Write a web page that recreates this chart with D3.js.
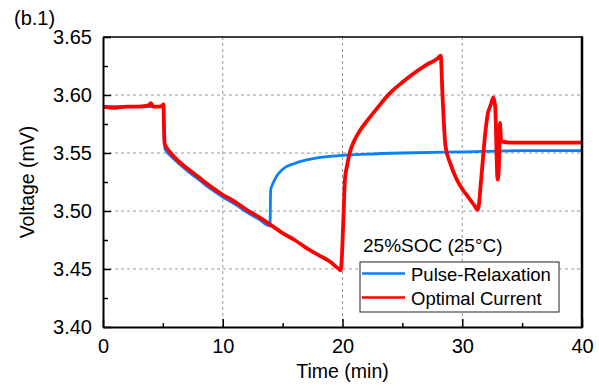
<!DOCTYPE html>
<html>
<head>
<meta charset="utf-8">
<script src="https://cdn.jsdelivr.net/npm/d3@7"></script>
<style>
  body { margin: 0; background: #fff; }
  svg { font-family: "Liberation Sans", Arial, sans-serif; }
</style>
</head>
<body>
<svg id="chart" width="599" height="390"></svg>
<script>
// time (min) / voltage readings
const pulseTime = [0, 5.05, 5.1, 5.2, 5.5, 6, 7, 8, 9, 10, 11, 12, 13, 13.95, 14.0, 14.2, 14.5, 15, 16, 17, 18, 20, 22, 25, 30, 35, 40];
const pulseVolt = [3.590, 3.590, 3.562, 3.553, 3.549, 3.544, 3.535, 3.527, 3.519, 3.512, 3.506, 3.499, 3.493, 3.487, 3.518, 3.524, 3.530, 3.536, 3.541, 3.544, 3.546, 3.548, 3.549, 3.550, 3.551, 3.552, 3.552];

const optTime = [0, 1, 2, 3, 3.8, 4.0, 4.2, 4.8, 5.05, 5.1, 5.15, 5.5, 6, 7, 8, 9, 10, 11, 12, 13, 14, 15, 16, 17, 18, 19, 19.7, 19.85, 20.1, 20.2, 20.4, 20.6, 21, 21.5, 22, 23, 24, 25, 26, 27, 28, 28.2, 28.35, 28.6, 29, 29.5, 30, 30.5, 31, 31.3, 31.6, 31.9, 32.1, 32.4, 32.6, 32.75, 32.95, 33.05, 33.15, 33.25, 34, 36, 38, 40];
const optVolt = [3.590, 3.589, 3.590, 3.590, 3.591, 3.593, 3.590, 3.590, 3.592, 3.570, 3.558, 3.552, 3.546, 3.537, 3.529, 3.521, 3.514, 3.508, 3.501, 3.495, 3.488, 3.481, 3.475, 3.468, 3.462, 3.456, 3.450, 3.449, 3.500, 3.527, 3.540, 3.550, 3.561, 3.570, 3.577, 3.590, 3.602, 3.611, 3.619, 3.626, 3.632, 3.634, 3.600, 3.556, 3.541, 3.528, 3.519, 3.512, 3.505, 3.501, 3.530, 3.565, 3.582, 3.592, 3.598, 3.590, 3.527, 3.535, 3.576, 3.560, 3.559, 3.559, 3.559, 3.559];

const xTicks = [0, 10, 20, 30, 40];
const yTicks = [3.40, 3.45, 3.50, 3.55, 3.60, 3.65];
const seriesNames = ["Pulse-Relaxation", "Optimal Current"];
const seriesColors = ["#0a80ff", "#ff0000"];

const svg = d3.select("#chart");
const pL = 103, pR = 582, pT = 37, pB = 327;

const x = d3.scaleLinear().domain([0, 40]).range([pL, pR]);
const y = d3.scaleLinear().domain([3.40, 3.65]).range([pB, pT]);

// grid
svg.append("g")
  .selectAll("line")
  .data(xTicks.slice(1, -1))
  .join("line")
  .attr("x1", d => x(d)).attr("x2", d => x(d))
  .attr("y1", pT).attr("y2", pB)
  .attr("stroke", "#999").attr("stroke-width", 1).attr("stroke-dasharray", "3,3");
svg.append("g")
  .selectAll("line")
  .data(yTicks.slice(1, -1))
  .join("line")
  .attr("x1", pL).attr("x2", pR)
  .attr("y1", d => y(d)).attr("y2", d => y(d))
  .attr("stroke", "#999").attr("stroke-width", 1).attr("stroke-dasharray", "3,3");

// lines
const line = d3.line().x(d => x(d[0])).y(d => y(d[1])).curve(d3.curveMonotoneX);
const pulseData = pulseTime.map((t, i) => [t, pulseVolt[i]]);
const optData = optTime.map((t, i) => [t, optVolt[i]]);

svg.append("path")
  .datum(pulseData)
  .attr("d", line)
  .attr("fill", "none")
  .attr("stroke", seriesColors[0])
  .attr("stroke-width", 2.8)
  .attr("stroke-linejoin", "round");

svg.append("path")
  .datum(optData)
  .attr("d", line)
  .attr("fill", "none")
  .attr("stroke", seriesColors[1])
  .attr("stroke-width", 3.8)
  .attr("stroke-linejoin", "round");

// axes
const xAxis = d3.axisBottom(x).tickValues(xTicks).tickSizeInner(-8).tickSizeOuter(0).tickPadding(12);
const gx = svg.append("g").attr("transform", `translate(0,${pB})`).call(xAxis);
gx.select(".domain").attr("stroke", "#000").attr("stroke-width", 2);
gx.selectAll(".tick line").attr("stroke-width", 1.5);
gx.selectAll("text").attr("font-size", 20).attr("fill", "#000").attr("font-family", "Liberation Sans, Arial, sans-serif");

const xMinor = d3.axisBottom(x).tickValues([5, 15, 25, 35]).tickSize(-4).tickFormat("");
const gxm = svg.append("g").attr("transform", `translate(0,${pB})`).call(xMinor);
gxm.select(".domain").remove();
gxm.selectAll(".tick line").attr("stroke-width", 1.5);

const yAxis = d3.axisLeft(y).tickValues(yTicks).tickFormat(d3.format(".2f")).tickSizeInner(-8).tickSizeOuter(0).tickPadding(11);
const gy = svg.append("g").attr("transform", `translate(${pL},0)`).call(yAxis);
gy.select(".domain").attr("stroke", "#000").attr("stroke-width", 2);
gy.selectAll(".tick line").attr("stroke-width", 1.5);
gy.selectAll("text").attr("font-size", 20).attr("fill", "#000").attr("font-family", "Liberation Sans, Arial, sans-serif");

const yMinor = d3.axisLeft(y).tickValues([3.425, 3.475, 3.525, 3.575, 3.625]).tickSize(-5).tickFormat("");
const gym = svg.append("g").attr("transform", `translate(${pL},0)`).call(yMinor);
gym.select(".domain").remove();
gym.selectAll(".tick line").attr("stroke-width", 1.5);

// top and right frame
svg.append("line").attr("x1", pL).attr("x2", pR).attr("y1", pT).attr("y2", pT)
  .attr("stroke", "#000").attr("stroke-width", 1.5);
svg.append("line").attr("x1", pR).attr("x2", pR).attr("y1", pT - 0.75).attr("y2", pB + 1)
  .attr("stroke", "#000").attr("stroke-width", 2.5);

// axis titles
svg.append("text")
  .attr("x", (pL + pR) / 2).attr("y", 378)
  .attr("text-anchor", "middle").attr("font-size", 19.5)
  .text("Time (min)");
svg.append("text")
  .attr("transform", `translate(34,${(pT + pB) / 2}) rotate(-90)`)
  .attr("text-anchor", "middle").attr("font-size", 19.5)
  .text("Voltage (mV)");

svg.append("text")
  .attr("x", 14).attr("y", 25)
  .attr("font-size", 20)
  .text("(b.1)");

// legend
svg.append("text")
  .attr("x", 363).attr("y", 252)
  .attr("font-size", 19)
  .text("25%SOC (25°C)");

const lg = svg.append("g");
lg.append("rect")
  .attr("x", 360).attr("y", 262).attr("width", 199).attr("height", 50)
  .attr("fill", "#fff").attr("stroke", "#222").attr("stroke-width", 1);
seriesNames.forEach((name, i) => {
  const ly = 273.5 + i * 24;
  lg.append("line")
    .attr("x1", 362).attr("x2", 405).attr("y1", ly).attr("y2", ly)
    .attr("stroke", seriesColors[i]).attr("stroke-width", 2.5);
  lg.append("text")
    .attr("x", 411).attr("y", ly + 7)
    .attr("font-size", 18.5)
    .text(name);
});
</script>
</body>
</html>
